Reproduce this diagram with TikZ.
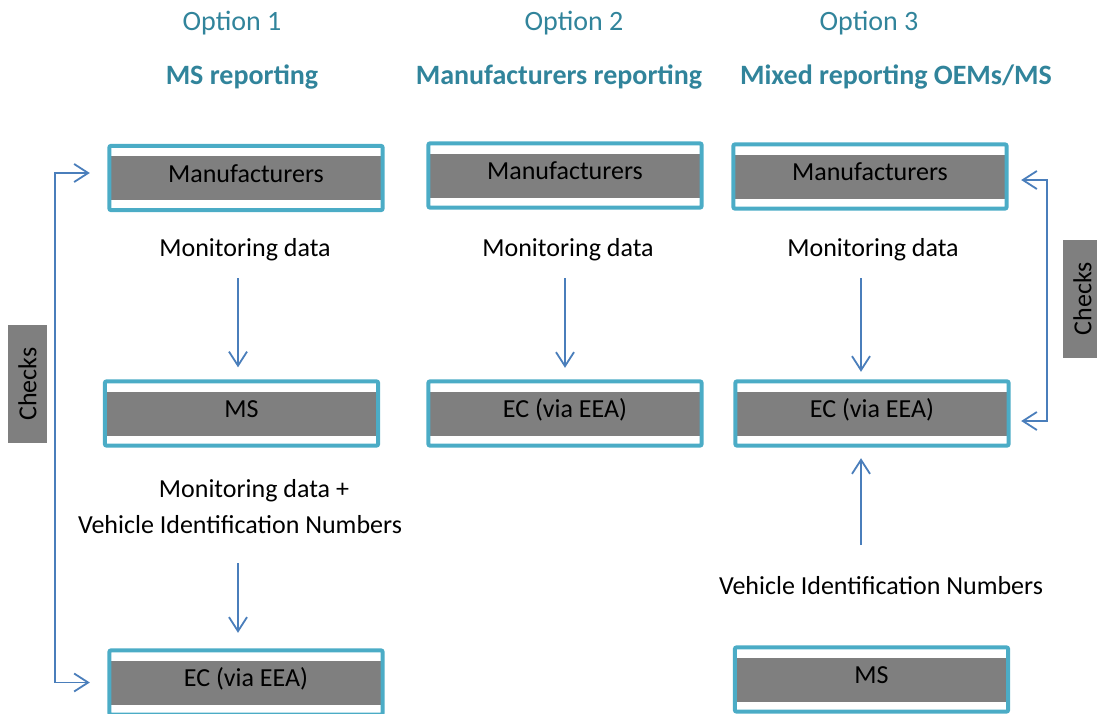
\documentclass[tikz,border=0pt]{standalone}
\usepackage{fontspec}
\setmainfont{Carlito}
\usepackage{xcolor}
\usetikzlibrary{arrows.meta}
\usetikzlibrary{positioning}
\definecolor{boxgray}{HTML}{7F7F7F}
\definecolor{frameblue}{HTML}{4BACC6}
\definecolor{titleblue}{HTML}{31849B}
\definecolor{arrowblue}{HTML}{4A7EBB}

\begin{document}
\begin{tikzpicture}[x=1pt,y=1pt,node distance=235.5pt,>={Straight Barb[length=14pt,width=18pt]},
	main node/.style={rectangle, fill=boxgray, minimum width=270pt, minimum height=44pt, text height=14pt, text depth=6pt, inner sep=0pt, font=\fontsize{26}{31}\selectfont},
	text node/.style={anchor=base, inner sep=0pt, font=\fontsize{26}{36}\selectfont},
	title node/.style={anchor=base, inner sep=0pt, text=titleblue, font=\fontsize{28}{33}\selectfont},
	check node/.style={rectangle, fill=boxgray, rotate=90, minimum width=118pt, minimum height=39pt, inner sep=0pt, font=\fontsize{26}{31}\selectfont},
	flow/.style={->, arrowblue, line width=1.8pt},
	frame/.style={frameblue, line width=4pt, rounded corners=2pt}]
	\useasboundingbox (0,0) rectangle (1097,-713);
	
	% Titles
	\node[title node] (16) at (232,-30) {Option 1};
	\node[title node, font=\fontsize{28}{33}\selectfont\bfseries] (17) at (242,-84) {MS reporting};
	\node[title node] (18) at (574,-30) {Option 2};
	\node[title node, font=\fontsize{28}{33}\selectfont\bfseries] (19) at (559,-84) {Manufacturers reporting};
	\node[title node] (20) at (869,-30) {Option 3};
	\node[title node, font=\fontsize{28}{33}\selectfont\bfseries] (21) at (896,-84) {Mixed reporting OEMs/MS};
	
	% Boxes
	\node[main node] (1) at (246,-178) {Manufacturers};
	\node[main node] (2) [below of=1, xshift=-4.5pt] {MS};
	\node[main node] (3) at (246,-682.5) {EC (via EEA)};
	\node[main node] (4) at (565,-175.5) {Manufacturers};
	\node[main node] (5) [below of=4, yshift=-2.5pt] {EC (via EEA)};
	\node[main node] (6) at (870,-176.5) {Manufacturers};
	\node[main node] (7) [below of=6, xshift=2pt, yshift=-1.5pt] {EC (via EEA)};
	\node[main node] (8) at (871.5,-679.5) {MS};
	
	\foreach \n in {1,...,8}
	\draw[frame] ([xshift=-1.5pt,yshift=-10pt]\n.south west) rectangle ([xshift=1.5pt,yshift=10pt]\n.north east);
	
	% Labels
	\node[text node] (9) at (245,-256) {Monitoring data};
	\node[text node] (10) at (568,-256) {Monitoring data};
	\node[text node] (11) at (873,-256) {Monitoring data};
	\node[text node, align=center] (12) at (240,-533) {\hspace*{28pt}Monitoring data +\\Vehicle Identification Numbers};
	\node[text node] (13) at (881,-594) {Vehicle Identification Numbers};
	
	\node[check node] (14) at (27.5,-384) {Checks};
	\node[check node] (15) at (1082.5,-298.5) {Checks};
	
	% Arrows
	\draw[flow] ([xshift=-7pt,yshift=-22pt]9.base) -- ([xshift=-3.5pt,yshift=24pt]2.north);
	\draw[flow] ([xshift=-2pt,yshift=-30pt]12.base) -- ([xshift=-8pt,yshift=27.5pt]3.north);
	\draw[flow] ([xshift=-3pt,yshift=-22pt]10.base) -- ([xshift=0pt,yshift=23.5pt]5.north);
	\draw[flow] ([xshift=-12pt,yshift=-22pt]11.base) -- ([xshift=-11pt,yshift=19.5pt]7.north);
	\draw[flow] ([xshift=-20pt,yshift=49pt]13.base) -- ([xshift=-11pt,yshift=-22.5pt]7.south);
	
	\draw[flow, <->] ([xshift=-21pt,yshift=5pt]1.west) -- ++(-35,0) |- ([xshift=-21pt]3.west);
	\draw[flow, <->] ([xshift=16pt,yshift=-3.5pt]6.east) -- ++(26,0) |- ([xshift=14pt,yshift=-7.5pt]7.east);
	
\end{tikzpicture}
\end{document}
